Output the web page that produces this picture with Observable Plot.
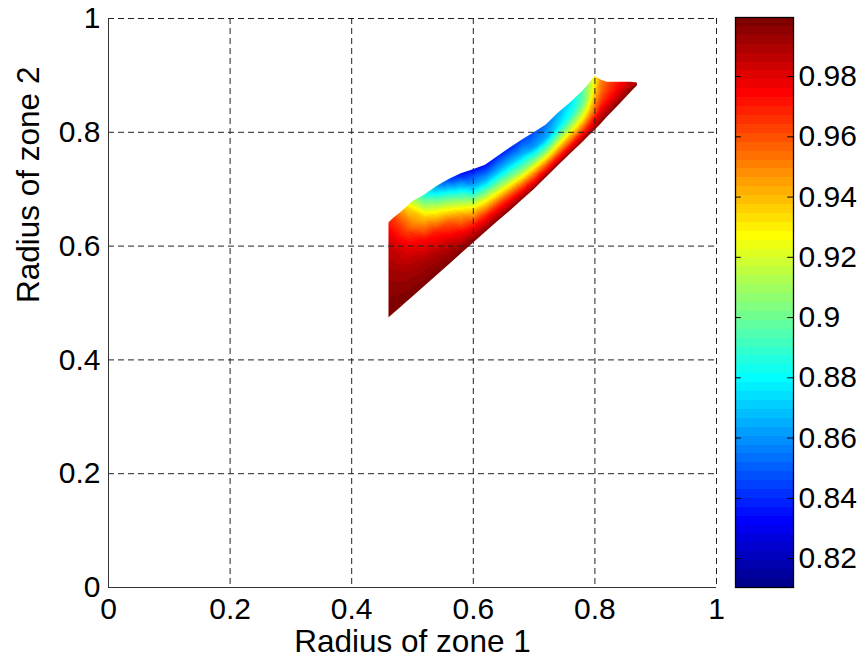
<!DOCTYPE html>
<html><head><meta charset="utf-8">
<script src="https://cdn.jsdelivr.net/npm/d3@7"></script>
<script src="https://cdn.jsdelivr.net/npm/@observablehq/plot@0.6"></script>
<style>
body{margin:0;background:#fff;}
#wrap{display:flex;width:866px;height:667px;}
</style></head><body><div id="wrap"></div>
<script>
// Columns of the feasible region (radius of zone 1)
const colX = [0.4605, 0.47, 0.48, 0.49, 0.50, 0.52, 0.54, 0.56, 0.58, 0.60, 0.62, 0.64, 0.66, 0.68, 0.70, 0.72, 0.74, 0.76, 0.78, 0.79, 0.80, 0.81, 0.82, 0.84, 0.86, 0.872];
// Lower and upper edge (radius of zone 2) of each column
const yLow = [0.473, 0.482, 0.491, 0.501, 0.510, 0.529, 0.548, 0.567, 0.586, 0.605, 0.624, 0.643, 0.661, 0.680, 0.699, 0.720, 0.741, 0.762, 0.782, 0.793, 0.803, 0.814, 0.826, 0.848, 0.871, 0.884];
const yTop = [0.640, 0.650, 0.658, 0.668, 0.678, 0.690, 0.705, 0.717, 0.727, 0.734, 0.742, 0.757, 0.772, 0.786, 0.799, 0.813, 0.834, 0.852, 0.872, 0.884, 0.898, 0.892, 0.888, 0.888, 0.888, 0.886];
// Values at 0, 1/4, 1/2, 3/4 and full height of each column
const vLow = [0.999, 0.999, 0.999, 0.999, 0.999, 0.999, 0.999, 0.999, 0.999, 0.999, 0.999, 0.999, 0.999, 0.999, 0.999, 0.999, 0.999, 0.999, 0.999, 0.999, 0.999, 0.999, 0.999, 0.999, 0.999, 0.999];
const v25  = [0.996, 0.995, 0.994, 0.993, 0.992, 0.991, 0.989, 0.985, 0.977, 0.970, 0.968, 0.965, 0.962, 0.958, 0.956, 0.955, 0.955, 0.957, 0.960, 0.965, 0.972, 0.980, 0.985, 0.990, 0.995, 0.998];
const v50  = [0.992, 0.989, 0.986, 0.983, 0.980, 0.975, 0.968, 0.958, 0.942, 0.925, 0.920, 0.915, 0.910, 0.905, 0.905, 0.905, 0.910, 0.915, 0.925, 0.935, 0.950, 0.965, 0.972, 0.982, 0.990, 0.997];
const v75  = [0.985, 0.980, 0.972, 0.963, 0.952, 0.938, 0.920, 0.905, 0.888, 0.870, 0.870, 0.870, 0.870, 0.868, 0.862, 0.865, 0.875, 0.885, 0.900, 0.915, 0.935, 0.955, 0.964, 0.976, 0.987, 0.996];
const vTop = [0.970, 0.962, 0.950, 0.935, 0.915, 0.885, 0.860, 0.843, 0.835, 0.835, 0.835, 0.840, 0.840, 0.845, 0.848, 0.855, 0.865, 0.875, 0.895, 0.910, 0.930, 0.950, 0.960, 0.972, 0.985, 0.995];
const fracs = [0, 0.25, 0.5, 0.75, 1];

const xTicks = [0, 0.2, 0.4, 0.6, 0.8, 1];
const yTicks = [0, 0.2, 0.4, 0.6, 0.8, 1];
const cTicks = [0.82, 0.84, 0.86, 0.88, 0.90, 0.92, 0.94, 0.96, 0.98];
const cMin = 0.8104, cMax = 0.9996;
const xLabel = "Radius of zone 1";
const yLabel = "Radius of zone 2";

// MATLAB jet colormap
function jet(m) {
  const n = Math.ceil(m / 4);
  const u = [];
  for (let i = 1; i <= n; i++) u.push(i / n);
  for (let i = 1; i < n; i++) u.push(1);
  for (let i = n; i >= 1; i--) u.push(i / n);
  const off = Math.ceil(n / 2) - (m % 4 === 1 ? 1 : 0);
  const J = Array.from({length: m}, () => [0, 0, 0]);
  u.forEach((val, k) => {
    const g = off + k + 1, r = g + n, b = g - n;
    if (g >= 1 && g <= m) J[g - 1][1] = val;
    if (r >= 1 && r <= m) J[r - 1][0] = val;
    if (b >= 1 && b <= m) J[b - 1][2] = val;
  });
  return J.map(([r, g, b]) => d3.rgb(r * 255, g * 255, b * 255).formatHex());
}
const N = 64;
const jetColors = jet(N);
const step = (cMax - cMin) / N;
const thresholds = d3.range(1, N).map(i => cMin + i * step);
const bands = d3.range(N).map(i => ({lo: cMin + i * step, hi: cMin + (i + 1) * step, c: jetColors[i]}));

const levels = [vLow, v25, v50, v75, vTop];
const points = [];
colX.forEach((x, i) => fracs.forEach((f, k) => points.push({x, y: yLow[i] + f * (yTop[i] - yLow[i]), v: levels[k][i]})));
const cols = colX.map((x, i) => ({x, lo: yLow[i], hi: yTop[i]}));
const xFirst = colX[0], xLast = colX[colX.length - 1];

const font = {fontFamily: "'Liberation Sans', Arial, Helvetica, sans-serif", fontSize: "30px", color: "black", background: "transparent", overflow: "visible"};
const grid = {stroke: "#222", strokeWidth: 1, strokeDasharray: "6,4"};

const main = Plot.plot({
  width: 730, height: 667,
  marginLeft: 108, marginRight: 14, marginTop: 18, marginBottom: 80,
  x: {domain: [0, 1]},
  y: {domain: [0, 1]},
  color: {type: "threshold", domain: thresholds, range: jetColors},
  style: font,
  marks: [
    Plot.raster(points, {x: "x", y: "y", fill: "v", interpolate: "barycentric",
      x1: xFirst, x2: xLast, y1: 0.47, y2: 0.905}),
    // white masks outside the feasible region
    Plot.areaY(cols, {x: "x", y1: "hi", y2: 0.92, fill: "white"}),
    Plot.areaY(cols, {x: "x", y1: 0.46, y2: "lo", fill: "white"}),
    Plot.rect([xLast], {x1: d => d - 0.002, x2: 1, y1: 0.46, y2: 0.92, fill: "white"}),
    Plot.rect([xFirst], {x1: 0, x2: d => d, y1: 0.46, y2: 0.92, fill: "white"}),
    Plot.ruleX(xTicks.slice(1), grid),
    Plot.ruleY(yTicks.slice(1), grid),
    Plot.ruleX([0], {stroke: "#333"}),
    Plot.ruleY([0], {stroke: "#333"}),
    Plot.axisX({ticks: xTicks, tickSize: 0, tickPadding: 10, tickFormat: d => String(d), label: null}),
    Plot.axisY({ticks: yTicks, tickSize: 0, tickPadding: 8, tickFormat: d => String(d), label: null}),
    Plot.text([xLabel], {frameAnchor: "bottom", dy: 64, fontSize: 31.5}),
    Plot.text([yLabel], {frameAnchor: "left", rotate: -90, dx: -80, fontSize: 31.5})
  ]
});

const cbar = Plot.plot({
  width: 136, height: 667,
  marginLeft: 5, marginRight: 73, marginTop: 17, marginBottom: 80,
  x: {domain: [0, 1], axis: null},
  y: {domain: [cMin, cMax], axis: null},
  color: {type: "identity"},
  style: font,
  marks: [
    Plot.rect(bands, {x1: 0, x2: 1, y1: "lo", y2: "hi", fill: "c", shapeRendering: "crispEdges"}),
    Plot.frame({stroke: "black", strokeWidth: 1.3}),
    Plot.ruleY(cTicks, {x1: 0, x2: 0.1, stroke: "black"}),
    Plot.ruleY(cTicks, {x1: 0.9, x2: 1, stroke: "black"}),
    Plot.axisY({ticks: cTicks, anchor: "right", tickSize: 0, tickPadding: 5, tickFormat: d => String(+d.toFixed(2)), label: null})
  ]
});

document.getElementById("wrap").append(main, cbar);
</script></body></html>
